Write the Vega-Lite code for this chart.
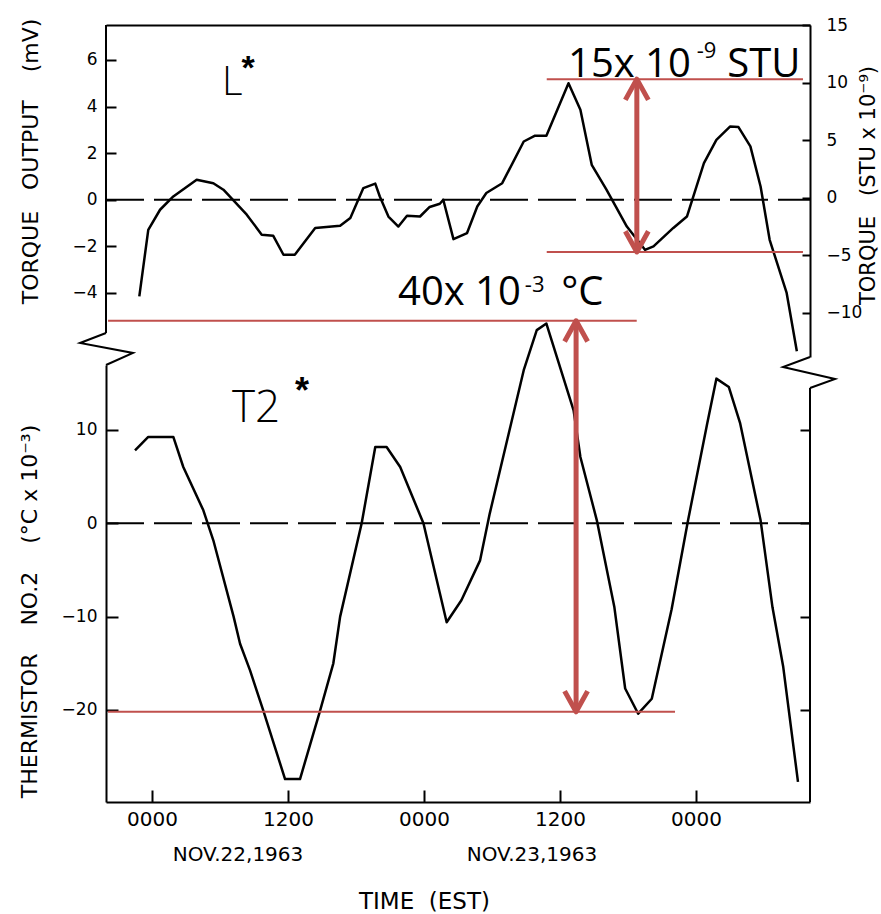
{
  "$schema": "https://vega.github.io/schema/vega-lite/v6.json",
  "padding": {"left": 17, "top": 16, "right": 5, "bottom": 5},
  "bounds": "flush",
  "spacing": 8,
  "background": "white",
  "config": {
    "view": {"stroke": null},
    "axis": {
      "grid": false,
      "domainColor": "black",
      "domainWidth": 2,
      "tickColor": "black",
      "tickWidth": 2,
      "labelColor": "black",
      "titleColor": "black",
      "labelFont": "DejaVu Sans",
      "titleFont": "DejaVu Sans",
      "titleFontWeight": "normal"
    }
  },
  "vconcat": [
    {
      "width": 704,
      "height": 332,
      "layer": [
        {
          "encoding": {
            "x": {"field": "h", "type": "quantitative", "scale": {"domain": [-4.06, 58.06], "nice": false, "zero": false},
                  "axis": {"orient": "top", "labels": false, "ticks": false, "domain": true, "title": null}},
            "y": {"field": "v", "type": "quantitative", "scale": {"domain": [-6.75, 7.5], "nice": false, "zero": false},
                  "axis": {"orient": "left", "values": [-4, -2, 0, 2, 4, 6], "tickSize": -10, "domain": false,
                           "labelFontSize": 17, "labelPadding": 19,
                           "title": "TORQUE\u00a0\u00a0\u00a0OUTPUT\u00a0\u00a0\u00a0\u00a0(mV)", "titleFontSize": 22, "titleX": -76, "titleY": 136, "titleBaseline": "middle"}}
          },
          "layer": [
            {
              "data": {"values": [
                {"h": -1.12, "v": -4.15}, {"h": -0.33, "v": -1.29}, {"h": 0.71, "v": -0.43}, {"h": 1.88, "v": 0.14},
                {"h": 3.94, "v": 0.86}, {"h": 5.41, "v": 0.71}, {"h": 6.3, "v": 0.43}, {"h": 8.36, "v": -0.64},
                {"h": 9.68, "v": -1.5}, {"h": 10.7, "v": -1.55}, {"h": 11.6, "v": -2.36}, {"h": 12.6, "v": -2.36},
                {"h": 14.4, "v": -1.21}, {"h": 16.6, "v": -1.12}, {"h": 17.5, "v": -0.78}, {"h": 18.2, "v": 0},
                {"h": 18.65, "v": 0.5}, {"h": 19.7, "v": 0.69}, {"h": 20.1, "v": 0.14}, {"h": 20.86, "v": -0.72},
                {"h": 21.74, "v": -1.15}, {"h": 22.5, "v": -0.69}, {"h": 23.65, "v": -0.72}, {"h": 24.5, "v": -0.31},
                {"h": 25.4, "v": -0.17}, {"h": 25.7, "v": 0}, {"h": 26.6, "v": -1.69}, {"h": 27.8, "v": -1.43},
                {"h": 28.7, "v": -0.29}, {"h": 29.5, "v": 0.29}, {"h": 30.9, "v": 0.71}, {"h": 32.8, "v": 2.5},
                {"h": 33.8, "v": 2.75}, {"h": 34.8, "v": 2.75}, {"h": 36.75, "v": 5.0}, {"h": 37.8, "v": 3.86},
                {"h": 38.8, "v": 1.5}, {"h": 40.1, "v": 0.43}, {"h": 41.9, "v": -1.15}, {"h": 43.5, "v": -2.15},
                {"h": 44.25, "v": -2.0}, {"h": 46.0, "v": -1.21}, {"h": 47.2, "v": -0.72}, {"h": 48.7, "v": 1.57},
                {"h": 49.8, "v": 2.57}, {"h": 51.0, "v": 3.14}, {"h": 51.75, "v": 3.12}, {"h": 52.8, "v": 2.29},
                {"h": 53.7, "v": 0.57}, {"h": 54.5, "v": -1.72}, {"h": 56.0, "v": -4.0}, {"h": 56.9, "v": -6.5}
              ]},
              "mark": {"type": "line", "color": "black", "strokeWidth": 2.5, "strokeJoin": "round"}
            },
            {
              "data": {"values": [{"h": -4.06, "h2": 58.06, "v": 0}]},
              "mark": {"type": "rule", "color": "black", "strokeWidth": 2, "strokeDash": [38, 10]},
              "encoding": {"x2": {"field": "h2"}}
            },
            {
              "data": {"values": [{"h": -4.06, "v": 7.5, "v2": -5.72}]},
              "mark": {"type": "rule", "color": "black", "strokeWidth": 2},
              "encoding": {"y2": {"field": "v2"}}
            },
            {
              "data": {"values": [{"h": 6.18, "v": 4.5, "t": "L"}]},
              "mark": {"type": "text", "font": "Open Sans", "fontWeight": 300, "fontSize": 40, "align": "left", "baseline": "alphabetic", "color": "black"},
              "encoding": {"text": {"field": "t"}}
            },
            {
              "data": {"values": [{"h": 8.47, "v": 5.17, "t": "*"}]},
              "mark": {"type": "text", "font": "Liberation Sans", "fontWeight": "bold", "fontSize": 34, "align": "center", "baseline": "alphabetic", "color": "black"},
              "encoding": {"text": {"field": "t"}}
            }
          ]
        },
        {
          "encoding": {
            "x": {"field": "h", "type": "quantitative", "scale": {"domain": [-4.06, 58.06], "nice": false, "zero": false},
                  "axis": {"orient": "top", "labels": false, "ticks": false, "domain": true, "title": null}},
            "y": {"field": "v", "type": "quantitative", "scale": {"domain": [-13.82, 15], "nice": false, "zero": false},
                  "axis": {"orient": "right", "values": [-10, -5, 0, 5, 10, 15], "tickSize": -8, "domain": true,
                           "labelFontSize": 17, "labelPadding": 24,
                           "title": "TORQUE\u00a0\u00a0\u00a0(STU x 10⁻⁹)", "titleFontSize": 21, "titleAngle": 270, "titleX": 58, "titleY": 160, "titleBaseline": "middle"}}
          },
          "layer": [
            {
              "data": {"values": [{"h": 34.83, "h2": 57.44, "v": 10.3}, {"h": 34.83, "h2": 57.44, "v": -4.7}]},
              "mark": {"type": "rule", "color": "#c0504d", "strokeWidth": 2},
              "encoding": {"x2": {"field": "h2"}}
            },
            {
              "data": {"values": [{"h": 42.78, "v": 10.1, "v2": -4.5}]},
              "mark": {"type": "rule", "color": "#c0504d", "strokeWidth": 5},
              "encoding": {"y2": {"field": "v2"}}
            },
            {
              "data": {"values": [{"h": 42.78, "v": 10.3}]},
              "mark": {"type": "point", "shape": "M-1,1.8L0,0L1,1.8", "size": 529, "filled": false, "color": "#c0504d", "strokeWidth": 5, "opacity": 1, "strokeJoin": "round"}
            },
            {
              "data": {"values": [{"h": 42.78, "v": -4.7}]},
              "mark": {"type": "point", "shape": "M-1,-1.8L0,0L1,-1.8", "size": 529, "filled": false, "color": "#c0504d", "strokeWidth": 5, "opacity": 1, "strokeJoin": "round"}
            },
            {
              "data": {"values": [{"h": 36.71, "v": 10.49, "t": "15x 10"}, {"h": 50.76, "v": 10.49, "t": "STU"}]},
              "mark": {"type": "text", "font": "Open Sans", "fontSize": 40, "align": "left", "baseline": "alphabetic", "color": "black"},
              "encoding": {"text": {"field": "t"}}
            },
            {
              "data": {"values": [{"h": 48.06, "v": 12.1, "t": "-9"}]},
              "mark": {"type": "text", "font": "Open Sans", "fontSize": 22, "align": "left", "baseline": "alphabetic", "color": "black"},
              "encoding": {"text": {"field": "t"}}
            }
          ]
        }
      ],
      "resolve": {"scale": {"y": "independent"}}
    },
    {
      "width": 704,
      "height": 437,
      "layer": [
        {
          "encoding": {
            "x": {"field": "h", "type": "quantitative", "scale": {"domain": [-4.06, 58.06], "nice": false, "zero": false},
                  "axis": {"orient": "bottom", "values": [0, 12, 24, 36, 48], "labelExpr": "datum.value % 24 === 0 ? '0000' : '1200'",
                           "tickSize": -12, "labelFontSize": 20, "labelPadding": 19, "domain": true,
                           "title": "TIME\u00a0\u00a0(EST)", "titleFontSize": 23, "titleX": 318, "titleY": 106, "titleBaseline": "alphabetic"}},
            "y": {"field": "v", "type": "quantitative", "scale": {"domain": [-29.86, 16.96], "nice": false, "zero": false},
                  "axis": {"orient": "left", "values": [-20, -10, 0, 10], "tickSize": -12, "domain": true,
                           "labelFontSize": 17, "labelPadding": 21,
                           "title": "THERMISTOR\u00a0\u00a0\u00a0\u00a0NO.2\u00a0\u00a0\u00a0\u00a0(°C x 10⁻³)", "titleFontSize": 22, "titleX": -77, "titleY": 246, "titleBaseline": "middle"}}
          },
          "layer": [
            {
              "data": {"values": [
                {"h": -1.5, "v": 7.82}, {"h": -0.33, "v": 9.25}, {"h": 1.88, "v": 9.25}, {"h": 2.76, "v": 6.03},
                {"h": 4.53, "v": 1.39}, {"h": 5.41, "v": -1.82}, {"h": 7.2, "v": -10.0}, {"h": 7.77, "v": -12.9},
                {"h": 8.65, "v": -15.76}, {"h": 9.8, "v": -20.0}, {"h": 11.74, "v": -27.4}, {"h": 13.06, "v": -27.4},
                {"h": 14.8, "v": -20.2}, {"h": 16.0, "v": -15.0}, {"h": 16.6, "v": -10.0}, {"h": 18.5, "v": 0},
                {"h": 19.7, "v": 8.18}, {"h": 20.7, "v": 8.18}, {"h": 21.9, "v": 6.03}, {"h": 23.95, "v": 0},
                {"h": 25.4, "v": -7.5}, {"h": 26.0, "v": -10.6}, {"h": 27.3, "v": -8.25}, {"h": 28.95, "v": -3.97},
                {"h": 29.8, "v": 1.04}, {"h": 32.8, "v": 16.4}, {"h": 33.95, "v": 20.7}, {"h": 34.8, "v": 21.4},
                {"h": 37.2, "v": 12.1}, {"h": 37.8, "v": 7.1}, {"h": 39.25, "v": 0.32}, {"h": 40.8, "v": -9.0},
                {"h": 41.75, "v": -17.7}, {"h": 42.9, "v": -20.4}, {"h": 44.1, "v": -18.8}, {"h": 45.85, "v": -9.2},
                {"h": 47.3, "v": 0.32}, {"h": 48.96, "v": 10.5}, {"h": 49.8, "v": 15.5}, {"h": 50.9, "v": 14.6},
                {"h": 51.9, "v": 10.7}, {"h": 53.7, "v": 0.32}, {"h": 54.75, "v": -9.0}, {"h": 55.7, "v": -15.4},
                {"h": 57.0, "v": -27.7}
              ]},
              "mark": {"type": "line", "color": "black", "strokeWidth": 2.5, "strokeJoin": "round"}
            },
            {
              "data": {"values": [{"h": -4.06, "h2": 58.06, "v": 0}]},
              "mark": {"type": "rule", "color": "black", "strokeWidth": 2, "strokeDash": [38, 10]},
              "encoding": {"x2": {"field": "h2"}}
            },
            {
              "data": {"values": [{"h": 58.06, "v": 14.5, "v2": -29.86}]},
              "mark": {"type": "rule", "color": "black", "strokeWidth": 2},
              "encoding": {"y2": {"field": "v2"}}
            },
            {
              "data": {"values": [
                {"s": "L", "i": 0, "h": -4.06, "v": 20.39}, {"s": "L", "i": 1, "h": -6.35, "v": 19.32},
                {"s": "L", "i": 2, "h": -1.68, "v": 18.25}, {"s": "L", "i": 3, "h": -4.06, "v": 16.96},
                {"s": "R", "i": 0, "h": 58.06, "v": 17.82}, {"s": "R", "i": 1, "h": 55.68, "v": 16.75},
                {"s": "R", "i": 2, "h": 60.27, "v": 15.46}, {"s": "R", "i": 3, "h": 58.06, "v": 14.5}
              ]},
              "mark": {"type": "line", "color": "black", "strokeWidth": 2},
              "encoding": {"detail": {"field": "s"}, "order": {"field": "i"}}
            },
            {
              "data": {"values": [{"h": -3.88, "h2": 42.77, "v": 21.7}, {"h": -3.88, "h2": 46.15, "v": -20.2}]},
              "mark": {"type": "rule", "color": "#c0504d", "strokeWidth": 2},
              "encoding": {"x2": {"field": "h2"}}
            },
            {
              "data": {"values": [{"h": 37.42, "v": 21.4, "v2": -19.9}]},
              "mark": {"type": "rule", "color": "#c0504d", "strokeWidth": 5},
              "encoding": {"y2": {"field": "v2"}}
            },
            {
              "data": {"values": [{"h": 37.42, "v": 21.7}]},
              "mark": {"type": "point", "shape": "M-1,1.8L0,0L1,1.8", "size": 529, "filled": false, "color": "#c0504d", "strokeWidth": 5, "opacity": 1, "strokeJoin": "round"}
            },
            {
              "data": {"values": [{"h": 37.42, "v": -20.2}]},
              "mark": {"type": "point", "shape": "M-1,-1.8L0,0L1,-1.8", "size": 529, "filled": false, "color": "#c0504d", "strokeWidth": 5, "opacity": 1, "strokeJoin": "round"}
            },
            {
              "data": {"values": [{"h": 21.71, "v": 23.39, "t": "40x 10"}, {"h": 36.1, "v": 23.39, "t": "°C"}]},
              "mark": {"type": "text", "font": "Open Sans", "fontSize": 40, "align": "left", "baseline": "alphabetic", "color": "black"},
              "encoding": {"text": {"field": "t"}}
            },
            {
              "data": {"values": [{"h": 32.9, "v": 24.8, "t": "-3"}]},
              "mark": {"type": "text", "font": "Open Sans", "fontSize": 22, "align": "left", "baseline": "alphabetic", "color": "black"},
              "encoding": {"text": {"field": "t"}}
            },
            {
              "data": {"values": [{"h": 7.06, "v": 10.85, "t": "T2"}]},
              "mark": {"type": "text", "font": "Open Sans", "fontWeight": 300, "fontSize": 44, "align": "left", "baseline": "alphabetic", "color": "black"},
              "encoding": {"text": {"field": "t"}}
            },
            {
              "data": {"values": [{"h": 13.24, "v": 12.94, "t": "*"}]},
              "mark": {"type": "text", "font": "Liberation Sans", "fontWeight": "bold", "fontSize": 36, "align": "center", "baseline": "alphabetic", "color": "black"},
              "encoding": {"text": {"field": "t"}}
            },
            {
              "data": {"values": [{"h": 7.59, "v": -35.54, "t": "NOV.22,1963"}, {"h": 33.53, "v": -35.54, "t": "NOV.23,1963"}]},
              "mark": {"type": "text", "font": "DejaVu Sans", "fontSize": 20, "align": "center", "baseline": "middle", "color": "black"},
              "encoding": {"text": {"field": "t"}}
            }
          ]
        },
        {
          "data": {"values": [{"h": 0, "v": 0}]},
          "mark": {"type": "point", "opacity": 0},
          "encoding": {
            "x": {"field": "h", "type": "quantitative", "scale": {"domain": [-4.06, 58.06], "nice": false, "zero": false},
                  "axis": {"orient": "bottom", "values": [0, 12, 24, 36, 48], "labelExpr": "datum.value % 24 === 0 ? '0000' : '1200'",
                           "tickSize": -12, "labelFontSize": 20, "labelPadding": 19, "domain": true,
                           "title": "TIME\u00a0\u00a0(EST)", "titleFontSize": 23, "titleX": 318, "titleY": 106, "titleBaseline": "alphabetic"}},
            "y": {"field": "v", "type": "quantitative", "scale": {"domain": [-29.86, 16.96], "nice": false, "zero": false},
                  "axis": {"orient": "right", "values": [-20, -10, 0, 10], "tickSize": -10, "labels": false, "domain": false, "title": null}}
          }
        }
      ],
      "resolve": {"axis": {"y": "independent"}}
    }
  ]
}
